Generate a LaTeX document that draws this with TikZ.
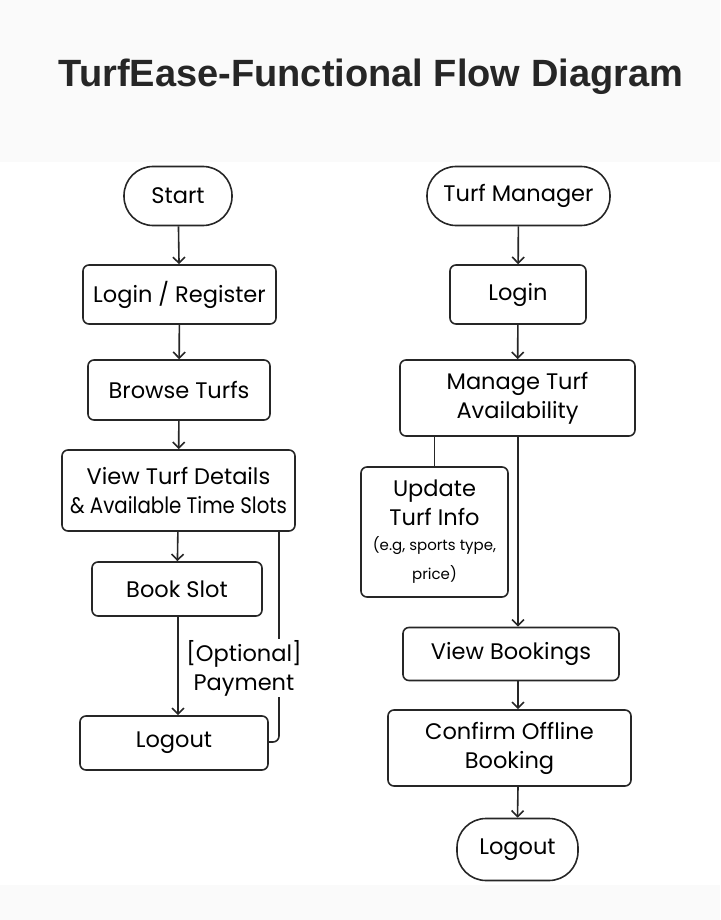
\documentclass[tikz,border=0pt]{standalone}
\usepackage{fontspec}
\usetikzlibrary{arrows.meta}
\setmainfont{Poppins}
\newfontfamily\headfont{Liberation Sans}

\begin{document}
\begin{tikzpicture}[x=1pt,y=-1pt,
    box/.style={draw=black!85,line width=1.6pt,rounded corners=6pt,inner sep=0pt,
      align=center,font=\fontsize{22.5}{29}\selectfont},
    term/.style={box,rounded corners=29pt},
    flow/.style={draw=black!85,line width=1.6pt,-{Straight Barb[length=6pt,width=12pt]}},
    link/.style={draw=black!85,line width=1.6pt}]
    % Background:
    \useasboundingbox (0,0) rectangle (720,920);
    \fill[black!2] (0,0) rectangle (720,162);
    \fill[black!2] (0,885) rectangle (720,920);
    \node (title) at (371,77) {\headfont\bfseries\fontsize{38}{40}\selectfont\color{black!85}TurfEase-Functional Flow Diagram};
    % Definitions (user):
    \node[term,minimum width=108pt,minimum height=59pt] (start) at (178,196) {Start};
    \node[box,minimum width=193pt,minimum height=59pt] (login) at (179.5,294.5) {Login / Register};
    \node[box,minimum width=182pt,minimum height=60pt] (browse) at (179,390) {Browse Turfs};
    \node[box,minimum width=233pt,minimum height=81pt] (details) at (178.5,490.5)
      {View Turf Details\\\scalebox{0.88}[1]{\& Available Time Slots}};
    \node[box,minimum width=170pt,minimum height=54pt] (book) at (177,589) {Book Slot};
    \node[box,minimum width=188pt,minimum height=54pt] (logout) at (174,743) {Logout};
    % Definitions (manager):
    \node[term,minimum width=183pt,minimum height=59pt] (manager) at (518.5,196) {Turf Manager};
    \node[box,minimum width=136pt,minimum height=59pt] (mlogin) at (518,294.5) {Login};
    \node[box,minimum width=235pt,minimum height=76pt] (manage) at (517.5,398) {Manage Turf\\Availability};
    \node[box,minimum width=147pt,minimum height=130pt] (update) at (434.5,532)
      {Update\\Turf Info\\[-4pt]\fontsize{15}{24}\selectfont(e.g, sports type,\\\fontsize{15}{24}\selectfont price)};
    \node[box,minimum width=216pt,minimum height=53pt] (bookings) at (511,654) {View Bookings};
    \node[box,minimum width=243pt,minimum height=76pt] (confirm) at (509.5,748) {Confirm Offline\\Booking};
    \node[term,minimum width=121pt,minimum height=62pt] (mlogout) at (517.5,849.5) {Logout};
    % Drawing:
    \draw[flow] (start) -- (login);
    \draw[flow] (login) -- (browse);
    \draw[flow] (browse) -- (details);
    \draw[flow] (details) -- (book);
    \draw[flow] (book.south -| 178,0) -- (logout.north -| 178,0);
    \draw[link,rounded corners=6pt] (details.south -| 279,0) -- (279,742) -- (logout.east |- 0,742);
    \draw[flow] (manager) -- (mlogin);
    \draw[flow] (mlogin) -- (manage);
    \draw[link] (manage.south -| update.north) -- (update.north);
    \draw[flow] (manage.south -| 518,0) -- (bookings.north -| 518,0);
    \draw[flow] (bookings.south -| 518,0) -- (confirm.north -| 518,0);
    \draw[flow] (confirm.south -| 518,0) -- (mlogout.north);
    % Labels:
    \node[fill=white,inner sep=1pt,align=center,font=\fontsize{22.5}{29}\selectfont] (payment) at (244,668) {[Optional]\\Payment};
\end{tikzpicture}
\end{document}
